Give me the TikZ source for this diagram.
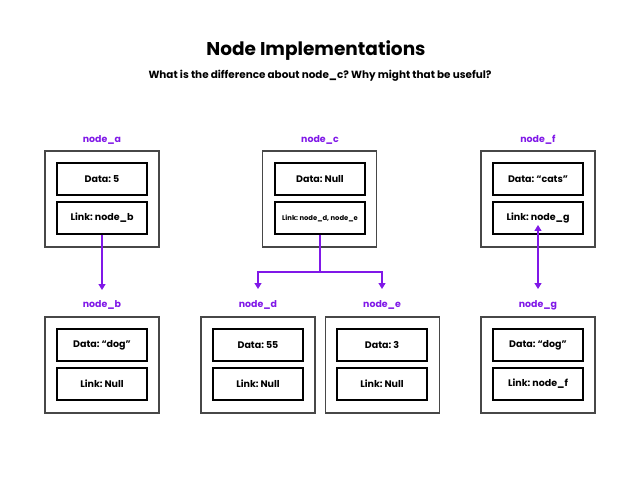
\documentclass[tikz,border=0pt]{standalone}
\usepackage{fontspec}
\setmainfont{Poppins}
\frenchspacing
\usetikzlibrary{arrows.meta}
\definecolor{linkpurple}{RGB}{128,24,232}
\begin{document}
\begin{tikzpicture}[x=1pt,y=-1pt,
  outerbox/.style={draw=black!72,line width=1.3pt,minimum width=114pt,minimum height=96pt,inner sep=0pt},
  fieldbox/.style={draw=black,line width=1.2pt,minimum width=90pt,minimum height=32pt,inner sep=0pt,
                   font=\fontsize{9.5}{11}\selectfont\bfseries},
  namelabel/.style={text=linkpurple,font=\fontsize{9.4}{11}\selectfont\bfseries,inner sep=0pt},
  pointer/.style={draw=linkpurple,line width=1.2pt},
  tip/.style={-{Triangle[length=6pt,width=7pt]}}
]
\useasboundingbox (0,0) rectangle (639,486);
\fill[white] (0,0) rectangle (639,486);

% headings
\node[font=\fontsize{18.5}{22}\selectfont\bfseries,anchor=base] (title) at (316,56) {Node Implementations};
\node[font=\fontsize{10.4}{12}\selectfont\bfseries,anchor=base] (subtitle) at (320,79)
  {What is the difference about node\_c? Why might that be useful?};

% top row of nodes
\node[outerbox] (a) at (102,199) {};
\node[fieldbox] (adata) at (102,179) {Data: 5};
\node[fieldbox] (alink) at (102,218) {Link: node\_b};
\node[namelabel] (alabel) at (102,140) {node\_a};

\node[outerbox] (c) at (319.5,199) {};
\node[fieldbox] (cdata) at (320,179) {Data: Null};
\node[fieldbox,font=\fontsize{6.8}{8}\selectfont\bfseries] (clink) at (320,218) {Link: node\_d, node\_e};
\node[namelabel] (clabel) at (320,140) {node\_c};

\node[outerbox] (f) at (538,199) {};
\node[fieldbox] (fdata) at (538,179) {Data: “cats”};
\node[fieldbox] (flink) at (538,218) {Link: node\_g};
\node[namelabel] (flabel) at (538,140) {node\_f};

% bottom row of nodes
\node[outerbox] (b) at (102,365) {};
\node[fieldbox] (bdata) at (102,345) {Data: “dog”};
\node[fieldbox] (blink) at (102,384) {Link: Null};
\node[namelabel] (blabel) at (102,305) {node\_b};

\node[outerbox] (d) at (258,365) {};
\node[fieldbox] (ddata) at (258,345) {Data: 55};
\node[fieldbox] (dlink) at (258,384) {Link: Null};
\node[namelabel] (dlabel) at (258,305) {node\_d};

\node[outerbox] (e) at (382.5,365) {};
\node[fieldbox] (edata) at (382,345) {Data: 3};
\node[fieldbox] (elink) at (382,384) {Link: Null};
\node[namelabel] (elabel) at (382,305) {node\_e};

\node[outerbox] (g) at (538,365) {};
\node[fieldbox] (gdata) at (538,345) {Data: “dog”};
\node[fieldbox] (glink) at (538,384) {Link: node\_f};
\node[namelabel] (glabel) at (538,305) {node\_g};

% pointer ends
\coordinate (bin) at (102,290);
\coordinate (csplit) at (320,272);
\coordinate (din) at (258,289);
\coordinate (ein) at (382,289);
\coordinate (ftop) at (538,225);
\coordinate (gin) at (538,289);

% pointers
\draw[pointer,tip] (alink.south) -- (bin);
\draw[pointer] (clink.south) -- (csplit);
\draw[pointer,tip] (csplit) -| (din);
\draw[pointer,tip] (csplit) -| (ein);
\draw[pointer,{Triangle[length=6pt,width=7pt]}-{Triangle[length=6pt,width=7pt]}] (ftop) -- (gin);
\end{tikzpicture}
\end{document}
